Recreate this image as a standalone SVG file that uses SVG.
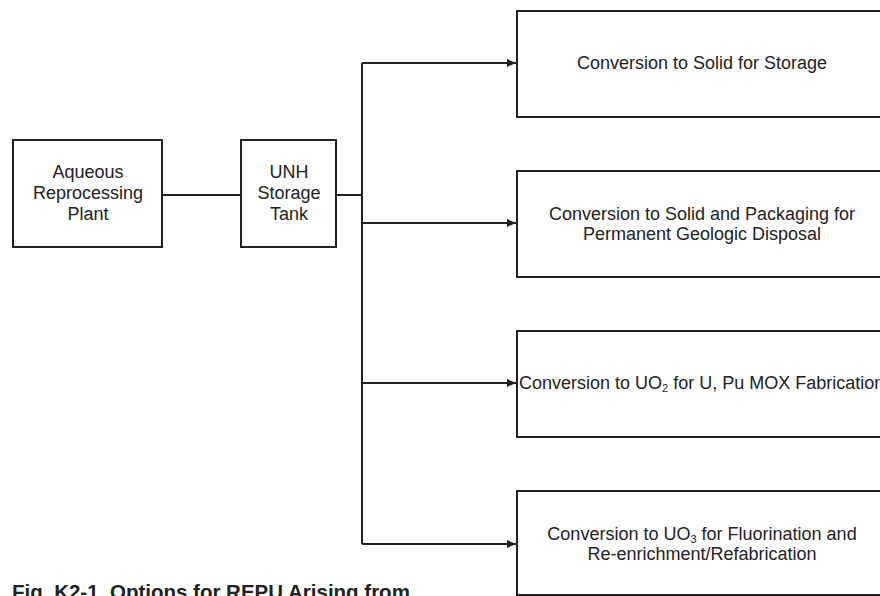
<svg xmlns="http://www.w3.org/2000/svg" width="880" height="596" viewBox="0 0 880 596">
<style>
.box{fill:#fff;stroke:#222;stroke-width:2}
.t{font-family:"Liberation Sans",Arial,sans-serif;font-size:18px;fill:#222;text-anchor:middle}
.sub{font-size:11px}
.c{fill:none;stroke:#222;stroke-width:2}
.cap{font-family:"Liberation Sans",Arial,sans-serif;font-size:20.5px;font-weight:bold;fill:#222}
</style>
<defs>
<marker id="ah" markerWidth="10" markerHeight="8" refX="9" refY="4" orient="auto" markerUnits="userSpaceOnUse">
<path d="M0,0 L9,4 L0,8 Z" fill="#222"/>
</marker>
</defs>
<rect width="880" height="596" fill="#fff"/>
<g id="connectors">
<path class="c" d="M162,195 H241"/>
<path class="c" d="M336,195 H362"/>
<path class="c" d="M362,63 V544"/>
<path class="c" d="M362,63 H516" marker-end="url(#ah)"/>
<path class="c" d="M362,223 H516" marker-end="url(#ah)"/>
<path class="c" d="M362,383 H516" marker-end="url(#ah)"/>
<path class="c" d="M362,544 H516" marker-end="url(#ah)"/>
</g>
<g id="aqueous">
<rect class="box" x="13" y="140" width="149" height="107"/>
<text class="t" x="88" y="178">Aqueous</text>
<text class="t" x="88" y="199">Reprocessing</text>
<text class="t" x="88" y="220">Plant</text>
</g>
<g id="unh">
<rect class="box" x="241" y="140" width="95" height="107"/>
<text class="t" x="289" y="178">UNH</text>
<text class="t" x="289" y="199">Storage</text>
<text class="t" x="289" y="220">Tank</text>
</g>
<g id="storage">
<rect class="box" x="517" y="11" width="380" height="106"/>
<text class="t" x="702" y="69">Conversion to Solid for Storage</text>
</g>
<g id="geologic">
<rect class="box" x="517" y="171" width="380" height="106"/>
<text class="t" x="702" y="220">Conversion to Solid and Packaging for</text>
<text class="t" x="702" y="240">Permanent Geologic Disposal</text>
</g>
<g id="mox">
<rect class="box" x="517" y="331" width="380" height="106"/>
<text class="t" x="519" y="389" style="text-anchor:start">Conversion to UO<tspan class="sub" dy="3">2</tspan><tspan dy="-3"> for U, Pu MOX Fabrication</tspan></text>
</g>
<g id="uo3">
<rect class="box" x="517" y="491" width="380" height="104"/>
<text class="t" x="702" y="540">Conversion to UO<tspan class="sub" dy="3">3</tspan><tspan dy="-3"> for Fluorination and</tspan></text>
<text class="t" x="702" y="560">Re-enrichment/Refabrication</text>
</g>
<text class="cap" x="12" y="599">Fig. K2-1. Options for REPU Arising from</text>
</svg>
